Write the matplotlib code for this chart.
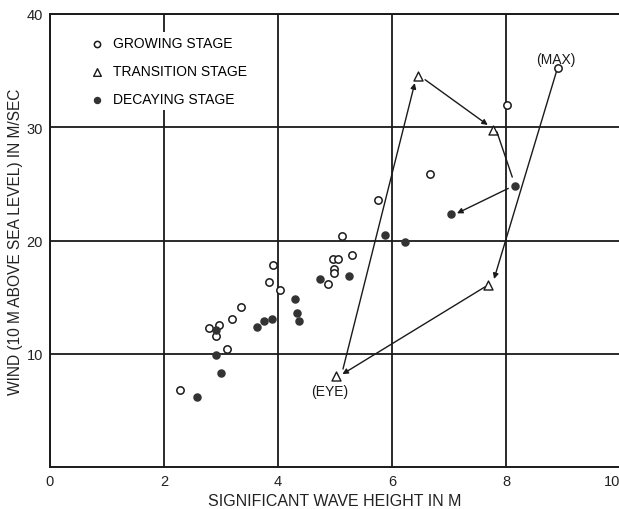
import matplotlib
matplotlib.use("Agg")
import matplotlib.pyplot as plt

# Growing stage (open circles)
grow_x = [2.28, 2.79, 2.97, 2.91, 3.10, 3.20, 3.35, 3.84, 3.92, 4.03, 4.88, 4.97, 5.06,
          4.98, 4.98, 5.12, 5.30, 5.75, 6.67, 8.02, 8.91]
grow_y = [6.8, 12.3, 12.5, 11.6, 10.4, 13.1, 14.1, 16.3, 17.8, 15.6, 16.2, 18.4, 18.4,
          17.5, 17.1, 20.4, 18.7, 23.6, 25.9, 32.0, 35.2]

# Transition stage (open triangles)
trans_x = [5.02, 6.46, 7.78, 7.69]
trans_y = [8.0, 34.5, 29.8, 16.1]

# Decaying stage (filled circles)
decay_x = [2.58, 3.00, 2.91, 2.92, 3.64, 3.75, 3.89, 4.29, 4.33, 4.37, 4.74, 5.25,
           5.88, 6.22, 7.03, 8.16]
decay_y = [6.2, 8.3, 9.9, 12.1, 12.4, 12.9, 13.1, 14.8, 13.6, 12.9, 16.6, 16.9,
           20.5, 19.9, 22.3, 24.8]

# Storm track (arrows): (start, end, arrowhead)
track_start_x = [5.14, 6.58, 7.84, 8.04, 8.89, 7.63]
track_start_y = [8.65, 34.2, 29.6, 24.6, 35.0, 15.9]
track_end_x = [6.40, 7.68, 8.11, 7.14, 7.79, 5.13]
track_end_y = [33.9, 30.2, 25.6, 22.4, 16.6, 8.2]
track_head = [True, True, False, True, True, True]

x_ticks = [0, 2, 4, 6, 8, 10]
y_ticks = [10, 20, 30, 40]

plt.rcParams['font.family'] = ['Liberation Sans', 'DejaVu Sans']

fig = plt.figure(figsize=(6.19, 5.10), dpi=100)
ax = fig.add_axes([50/619, 42/510, 570/619, 453/510])
ax.set_xlim(0, 10)
ax.set_ylim(0, 40)

ax.set_xticks(x_ticks)
ax.set_yticks(y_ticks)
ax.grid(True, color='#1a1a1a', linewidth=1.3)
ax.set_axisbelow(True)
ax.tick_params(length=0, labelsize=10.5, colors='#222222', pad=5)
for s in ax.spines.values():
    s.set_linewidth(1.4)
    s.set_color('#1a1a1a')
# keep the last x tick label inside the figure
ax.get_xticklabels()[-1].set_horizontalalignment('right')

for sx, sy, ex, ey, h in zip(track_start_x, track_start_y, track_end_x, track_end_y, track_head):
    ax.annotate('', xy=(ex, ey), xytext=(sx, sy),
                arrowprops=dict(arrowstyle='-|>' if h else '-', color='#1a1a1a', lw=1.0,
                                mutation_scale=8, shrinkA=0, shrinkB=0), zorder=3)

ax.scatter(grow_x, grow_y, s=28, facecolors='white', edgecolors='#1a1a1a', linewidths=1.1,
           label='GROWING STAGE', zorder=4)
ax.scatter(trans_x, trans_y, s=42, marker='^', facecolors='white', edgecolors='#1a1a1a',
           linewidths=1.0, label='TRANSITION STAGE', zorder=4)
ax.scatter(decay_x, decay_y, s=26, color='#333333', label='DECAYING STAGE', zorder=4)

ax.text(8.88, 36.0, '(MAX)', ha='center', va='center', fontsize=10, color='#1a1a1a')
ax.text(4.91, 6.7, '(EYE)', ha='center', va='center', fontsize=10, color='#1a1a1a')

leg = ax.legend(loc='upper left', bbox_to_anchor=(0.05, 0.975), frameon=True, fontsize=10,
                handletextpad=0.7, labelspacing=1.0, borderpad=0.3, handlelength=1.0,
                markerscale=0.85)
leg.get_frame().set_facecolor('white')
leg.get_frame().set_edgecolor('none')
leg.get_frame().set_alpha(1.0)

ax.set_xlabel('SIGNIFICANT WAVE HEIGHT IN M', fontsize=11.5, color='#222222', labelpad=4)
ax.set_ylabel('WIND (10 M ABOVE SEA LEVEL) IN M/SEC', fontsize=11.2, color='#222222', labelpad=3)

fig.savefig('out.png', dpi=100)
